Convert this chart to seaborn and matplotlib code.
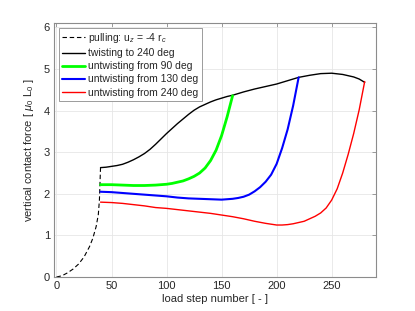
import numpy as np
import pandas as pd
import seaborn as sns
import matplotlib.pyplot as plt

# Data
pull_x = [0, 5, 10, 15, 20, 25, 30, 33, 36, 38, 39, 40]
pull_y = [0, 0.03, 0.1, 0.19, 0.31, 0.48, 0.73, 0.93, 1.21, 1.5, 1.85, 2.62]

twist_x = [40, 45, 50, 55, 60, 65, 70, 75, 80, 85, 90, 95, 100, 105, 110, 115, 120, 125,
           130, 135, 140, 145, 150, 155, 160, 170, 180, 190, 200, 210, 220, 230, 240, 250,
           260, 270, 275, 280]
twist_y = [2.63, 2.64, 2.66, 2.68, 2.71, 2.76, 2.82, 2.89, 2.97, 3.07, 3.19, 3.32, 3.45,
           3.57, 3.69, 3.80, 3.91, 4.01, 4.09, 4.15, 4.21, 4.26, 4.30, 4.34, 4.37, 4.45,
           4.52, 4.58, 4.64, 4.72, 4.80, 4.85, 4.89, 4.90, 4.87, 4.81, 4.76, 4.68]

un90_x = [40, 50, 60, 70, 80, 90, 100, 105, 110, 115, 120, 125, 130, 135, 140, 145, 150, 155, 160]
un90_y = [2.22, 2.22, 2.21, 2.20, 2.20, 2.21, 2.23, 2.25, 2.28, 2.31, 2.36, 2.42, 2.50,
          2.62, 2.80, 3.05, 3.40, 3.85, 4.36]

un130_x = [40, 50, 60, 70, 80, 90, 100, 110, 120, 130, 140, 150, 160, 165, 170, 175, 180,
           185, 190, 195, 200, 205, 210, 215, 220]
un130_y = [2.05, 2.04, 2.02, 2.00, 1.98, 1.96, 1.94, 1.91, 1.89, 1.88, 1.87, 1.86, 1.88,
           1.90, 1.93, 1.98, 2.06, 2.16, 2.29, 2.46, 2.72, 3.10, 3.55, 4.12, 4.80]

un240_x = [40, 50, 60, 70, 80, 90, 100, 110, 120, 130, 140, 150, 160, 170, 180, 190, 200,
           205, 210, 215, 220, 225, 230, 235, 240, 245, 250, 255, 260, 265, 270, 275, 280]
un240_y = [1.80, 1.79, 1.77, 1.74, 1.71, 1.67, 1.65, 1.62, 1.59, 1.56, 1.53, 1.49, 1.45,
           1.40, 1.34, 1.29, 1.25, 1.25, 1.26, 1.28, 1.31, 1.34, 1.40, 1.46, 1.54, 1.66,
           1.85, 2.12, 2.50, 2.95, 3.45, 4.02, 4.70]

x_ticks = [0, 50, 100, 150, 200, 250]
y_ticks = [0, 1, 2, 3, 4, 5, 6]

sns.set_style("white")
plt.rcParams['font.family'] = ['Liberation Sans', 'DejaVu Sans']
plt.rcParams['mathtext.fontset'] = 'custom'
plt.rcParams['mathtext.rm'] = 'Liberation Sans'
plt.rcParams['mathtext.it'] = 'Liberation Sans:italic'

fig = plt.figure(figsize=(4.15, 3.11), dpi=100)
ax = fig.add_axes([0.1308, 0.1093, 0.7745, 0.8158])

axc = '#262626'
sns.lineplot(x=pull_x, y=pull_y, ax=ax, color='k', lw=0.8, linestyle=(0, (4, 2.5)),
             sort=False, estimator=None, label='pulling: u$_z$ = -4 r$_c$')
sns.lineplot(x=twist_x, y=twist_y, ax=ax, color='k', lw=1.0,
             sort=False, estimator=None, label='twisting to 240 deg')
sns.lineplot(x=un90_x, y=un90_y, ax=ax, color='#00ff00', lw=2.0,
             sort=False, estimator=None, label='untwisting from 90 deg')
sns.lineplot(x=un130_x, y=un130_y, ax=ax, color='#0000ff', lw=1.5,
             sort=False, estimator=None, label='untwisting from 130 deg')
sns.lineplot(x=un240_x, y=un240_y, ax=ax, color='#ff0000', lw=1.0,
             sort=False, estimator=None, label='untwisting from 240 deg')

ax.set_xlim(-2, 290)
ax.set_ylim(0, 6.1)
ax.set_xticks(x_ticks)
ax.set_yticks(y_ticks)
ax.grid(True, color='#e6e6e6', lw=0.6)
ax.set_axisbelow(True)
for s in ax.spines.values():
    s.set_color('#8c8c8c')
    s.set_linewidth(0.8)
ax.tick_params(direction='in', length=3, width=0.6, color='#8c8c8c', labelsize=8,
               labelcolor=axc, top=True, right=True, pad=3)

ax.set_xlabel('load step number [ - ]', fontsize=8, color=axc, labelpad=2)
ax.set_ylabel('vertical contact force [ $\\mathit{\\mu}_0$ L$_0$ ]', fontsize=8, color=axc, labelpad=6)

leg = ax.legend(loc='upper left', fontsize=7.5, frameon=True, fancybox=False,
                framealpha=1, edgecolor='#8c8c8c', borderpad=0.3, labelspacing=0.3,
                handlelength=2.2, handletextpad=0.3, borderaxespad=0.45)
leg.get_frame().set_linewidth(0.6)
for t in leg.get_texts():
    t.set_color(axc)

fig.savefig('out.png', dpi=100)
